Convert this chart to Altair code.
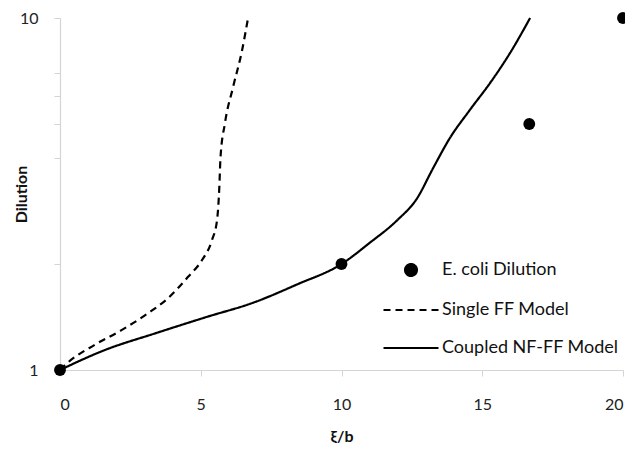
import altair as alt
import pandas as pd

series_names = ["E. coli Dilution", "Single FF Model", "Coupled NF-FF Model"]

ecoli_x = [0, 10, 16.67, 20]
ecoli_y = [1, 2, 5, 10]

single_x = [0, 0.28, 1.24, 2.20, 3.13, 3.84, 4.55, 5.04, 5.40, 5.58, 5.66, 5.70, 5.86, 6.15, 6.47, 6.68]
single_y = [1, 1.05, 1.18, 1.30, 1.45, 1.60, 1.84, 2.05, 2.34, 2.67, 3.31, 4.0, 5.03, 6.37, 8.11, 10]

coupled_x = [0, 1.60, 3.37, 5.15, 6.93, 8.42, 10, 11.01, 11.97, 12.68, 13.25, 13.85, 14.56, 15.28, 15.99, 16.70]
coupled_y = [1, 1.14, 1.27, 1.41, 1.56, 1.75, 2, 2.30, 2.66, 3.07, 3.74, 4.56, 5.48, 6.54, 7.96, 10]

x_ticks = [0, 5, 10, 15, 20]
y_ticks = [1, 2, 4, 5, 6, 7, 10]

df_points = pd.DataFrame({"x": ecoli_x, "y": ecoli_y, "series": series_names[0]})
df_lines = pd.concat([
    pd.DataFrame({"x": single_x, "y": single_y, "series": series_names[1], "i": range(len(single_x))}),
    pd.DataFrame({"x": coupled_x, "y": coupled_y, "series": series_names[2], "i": range(len(coupled_x))}),
])

FONT = "Lato"

xenc = alt.X("x:Q", scale=alt.Scale(domain=[0, 20], nice=False, zero=False),
             axis=alt.Axis(values=x_ticks, title="ξ/b", format="d", labelPadding=20,
                           tickSize=6, titleFontWeight="bold", titleFontSize=16,
                           titleY=66, titleBaseline="middle"))
yenc = alt.Y("y:Q", scale=alt.Scale(type="log", domain=[1, 10], nice=False),
             axis=alt.Axis(values=y_ticks, title="Dilution", tickSize=6, labelPadding=16,
                           labelExpr="(datum.value == 1 || datum.value == 10) ? format(datum.value, 'd') : ''",
                           labelOverlap=False, titleFontWeight="bold", titleFontSize=16,
                           titleX=-39, titleY=176, titleBaseline="middle", titleAngle=-90))

legend = alt.Legend(title=None, orient="none", legendX=322, legendY=243,
                    labelFont=FONT, labelFontSize=18, labelColor="#111", labelLimit=300,
                    symbolStrokeWidth=2.2, labelOffset=2, rowPadding=-4)

color = alt.Color("series:N", scale=alt.Scale(domain=series_names, range=["black", "black", "black"]),
                  legend=legend)
dash = alt.StrokeDash("series:N", scale=alt.Scale(domain=series_names, range=[[1, 0], [7, 5], [1, 0]]),
                      legend=legend)
shape = alt.Shape("series:N", scale=alt.Scale(domain=series_names, range=["circle", "stroke", "stroke"]),
                  legend=legend)
size = alt.Size("series:N", scale=alt.Scale(type="ordinal", domain=series_names, range=[140, 3025, 3025]),
                legend=legend)

lines = alt.Chart(df_lines).mark_line(strokeWidth=2.2, interpolate="monotone", opacity=1).encode(
    x=xenc, y=yenc, color=color, strokeDash=dash, detail="series:N", order="i:Q"
)
points = alt.Chart(df_points).mark_point(filled=True, opacity=1).encode(
    x=xenc, y=yenc, color=color, shape=shape, size=size
)

chart = alt.layer(lines, points).properties(
    width=563, height=352,
    autosize=alt.AutoSizeParams(type="none"),
    padding={"left": 52, "top": 10, "right": 2, "bottom": 73},
).configure_view(stroke=None).configure_axis(
    grid=False, domainColor="#d4d4d4", tickColor="#d4d4d4", labelFont=FONT, titleFont=FONT,
    labelFontSize=16, labelColor="#222", titleColor="#111", domainWidth=1.2
)

chart.save("out.html", embed_options={"renderer": "svg", "actions": False})
